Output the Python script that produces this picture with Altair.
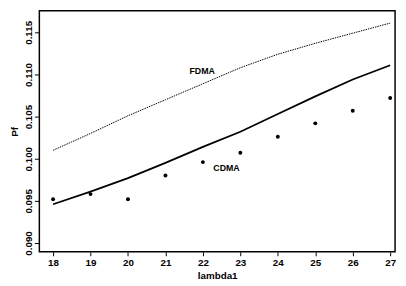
import altair as alt
import pandas as pd

lam = [18, 19, 20, 21, 22, 23, 24, 25, 26, 27]
sim_points = [0.0952, 0.0958, 0.0952, 0.0980, 0.0996, 0.1007, 0.1026, 0.1042, 0.1057, 0.1072]
cdma = [0.0946, 0.0961, 0.0977, 0.0995, 0.1014, 0.1032, 0.1053, 0.1074, 0.1094, 0.1111]
fdma = [0.1010, 0.1030, 0.1051, 0.1070, 0.1089, 0.1108, 0.1124, 0.1137, 0.1149, 0.1161]

label_text = ["FDMA", "CDMA"]
label_x = [21.98, 22.63]
label_y = [0.11035, 0.09884]

y_ticks = [0.090, 0.095, 0.100, 0.105, 0.110, 0.115]

df = pd.DataFrame({"lam": lam, "pts": sim_points, "cdma": cdma, "fdma": fdma})
lab = pd.DataFrame({"t": label_text, "x": label_x, "y": label_y})

FONT = "Liberation Sans"

xs = alt.Scale(domain=[17.634, 27.13], nice=False, zero=False)
ys = alt.Scale(domain=[0.08895, 0.11756], nice=False, zero=False)

xax = alt.Axis(values=lam, format="d", title="lambda1", grid=False, domain=False,
               tickSize=4, tickColor="black", labelPadding=2, labelFont=FONT,
               labelFontSize=10, labelFontWeight="bold", labelColor="black",
               titleFont=FONT, titleFontSize=10, titleFontWeight="bold",
               titleColor="black", titlePadding=3)
yax = alt.Axis(values=y_ticks, format=".3f", title="Pf", grid=False, domain=False,
               tickSize=5, tickColor="black", labelPadding=1, labelFont=FONT,
               labelFontSize=10, labelFontWeight="bold", labelColor="black",
               labelAngle=270, labelAlign="center", labelBaseline="bottom",
               titleFont=FONT, titleFontSize=10, titleFontWeight="bold",
               titleColor="black", titlePadding=4)

base = alt.Chart(df)

cd = base.mark_line(color="black", strokeWidth=1.8).encode(
    x=alt.X("lam:Q", scale=xs, axis=xax), y=alt.Y("cdma:Q", scale=ys, axis=yax))
fd = base.mark_line(color="black", strokeWidth=1.0, strokeDash=[1.5, 1]).encode(
    x=alt.X("lam:Q", scale=xs), y=alt.Y("fdma:Q", scale=ys))
pt = base.mark_circle(color="black", size=16, opacity=1).encode(
    x=alt.X("lam:Q", scale=xs), y=alt.Y("pts:Q", scale=ys))
tx = alt.Chart(lab).mark_text(font=FONT, fontSize=9, fontWeight="bold", color="black").encode(
    x=alt.X("x:Q", scale=xs), y=alt.Y("y:Q", scale=ys), text="t:N")

chart = alt.layer(cd, fd, pt, tx).properties(
    width=363, height=246,
    padding={"left": 32, "top": 0, "right": 3, "bottom": 30},
    autosize=alt.AutoSizeParams(type="none"),
    background="white",
).configure_view(stroke="black", strokeWidth=1.5)

chart.save("out.html", embed_options={"renderer": "svg", "actions": False})
